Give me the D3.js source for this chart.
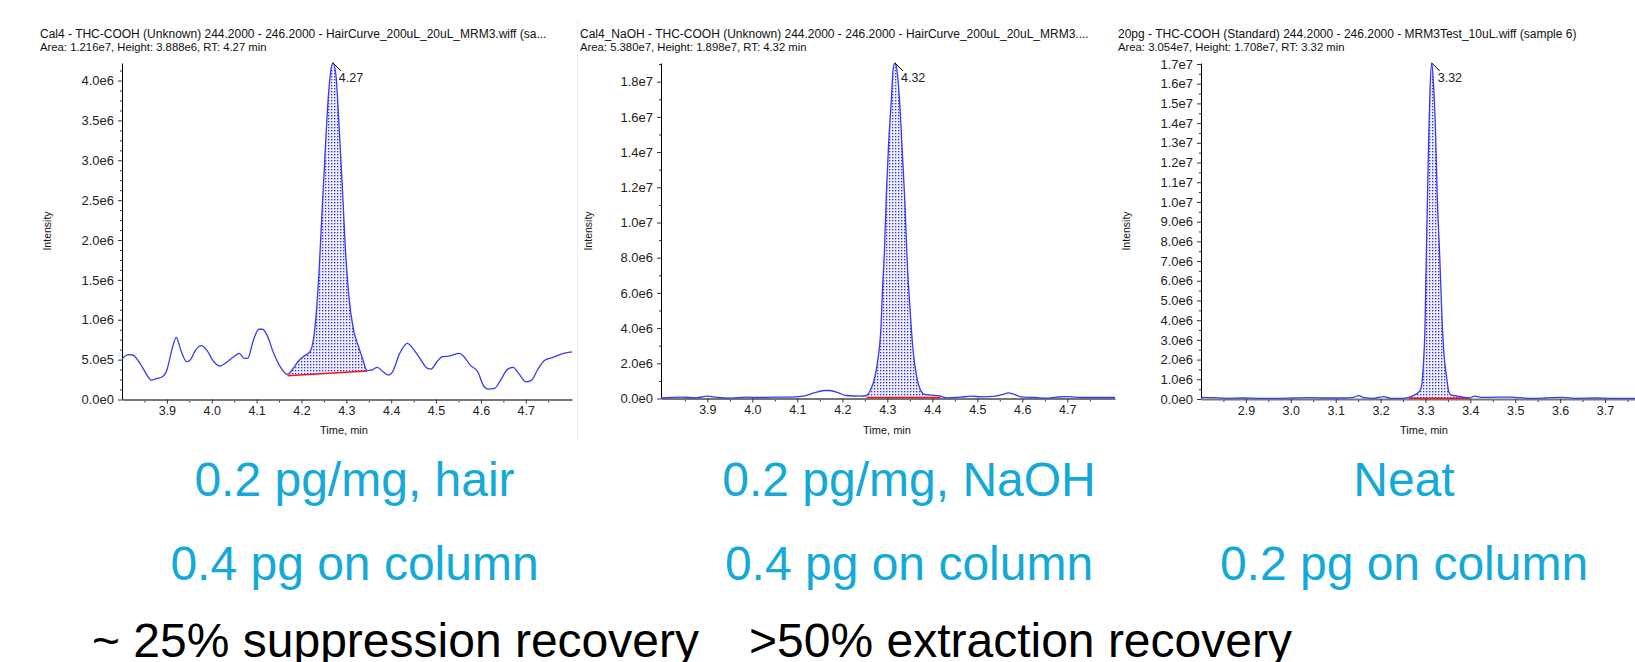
<!DOCTYPE html>
<html>
<head>
<meta charset="utf-8">
<script src="https://cdn.jsdelivr.net/npm/d3@7"></script>
<style>
  body { margin: 0; background: #fff; }
  svg { display: block; font-family: "Liberation Sans", Arial, sans-serif; }
</style>
</head>
<body>
<svg id="chart" width="1635" height="662"></svg>
<script>
// ---- data (time in min, intensity in units of 1e6) ----
const p1Trace = [[3.800,0.508],[3.814,0.562],[3.824,0.558],[3.840,0.453],[3.861,0.264],[3.865,0.243],
  [3.878,0.264],[3.890,0.285],[3.900,0.370],[3.911,0.620],[3.921,0.780],[3.931,0.620],[3.944,0.474],
  [3.952,0.495],[3.964,0.620],[3.977,0.676],[3.989,0.620],[4.002,0.495],[4.018,0.420],[4.035,0.474],
  [4.049,0.537],[4.062,0.579],[4.072,0.516],[4.080,0.516],[4.093,0.747],[4.105,0.881],[4.113,0.881],
  [4.123,0.810],[4.138,0.579],[4.155,0.390],[4.169,0.315],[4.179,0.370],[4.192,0.474],[4.204,0.537],
  [4.219,0.600],[4.227,0.768],[4.233,1.083],[4.239,1.587],[4.245,2.258],[4.252,3.014],[4.258,3.643],
  [4.264,4.060],[4.270,4.222],[4.277,4.060],[4.283,3.517],[4.291,2.678],[4.298,1.880],[4.305,1.335],
  [4.316,0.873],[4.326,0.684],[4.336,0.516],[4.346,0.361],[4.357,0.370],[4.369,0.403],[4.382,0.348],
  [4.394,0.306],[4.402,0.336],[4.419,0.579],[4.436,0.705],[4.448,0.642],[4.464,0.516],[4.481,0.390],
  [4.489,0.382],[4.502,0.474],[4.514,0.537],[4.531,0.546],[4.552,0.579],[4.564,0.525],[4.576,0.432],
  [4.593,0.348],[4.605,0.180],[4.616,0.130],[4.630,0.139],[4.644,0.243],[4.659,0.378],[4.672,0.403],
  [4.684,0.327],[4.701,0.222],[4.713,0.243],[4.726,0.370],[4.743,0.495],[4.759,0.525],[4.784,0.579],
  [4.803,0.596]];
const p1Base = [[4.169,0.298],[4.346,0.357]];

const p2Trace = [[3.797,0.04],[3.843,0.076],[3.875,0.04],[3.900,0.13],[3.922,0.06],[3.954,0.02],
  [3.986,0.076],[4.017,0.057],[4.049,0.076],[4.081,0.076],[4.113,0.13],[4.137,0.32],[4.160,0.455],
  [4.172,0.455],[4.192,0.32],[4.208,0.17],[4.240,0.13],[4.254,0.17],[4.263,0.51],[4.271,1.08],
  [4.279,2.22],[4.286,4.12],[4.289,6.01],[4.294,8.67],[4.298,11.7],[4.303,14.55],[4.309,17.0],
  [4.313,18.72],[4.317,19.06],[4.321,18.72],[4.327,17.0],[4.333,14.17],[4.339,11.13],[4.344,7.91],
  [4.351,4.87],[4.357,2.79],[4.365,1.27],[4.375,0.42],[4.383,0.23],[4.398,0.19],[4.418,0.13],
  [4.430,0.04],[4.462,0.076],[4.486,0.13],[4.510,0.095],[4.541,0.13],[4.557,0.23],[4.569,0.32],
  [4.581,0.25],[4.597,0.095],[4.629,0.057],[4.652,0.02],[4.676,0.076],[4.700,0.11],[4.732,0.057],
  [4.771,0.057],[4.806,0.057]];
const p2Base = [[4.254,0.06],[4.418,0.06]];

const p3Trace = [[2.800,0.085],[2.827,0.068],[2.857,0.034],[2.894,0.05],[2.931,0.034],[2.969,0.034],
  [3.006,0.05],[3.043,0.068],[3.081,0.05],[3.118,0.05],[3.140,0.085],[3.151,0.17],[3.163,0.068],
  [3.185,0.034],[3.207,0.12],[3.222,0.034],[3.245,0.034],[3.263,0.085],[3.275,0.20],[3.282,0.29],
  [3.290,0.54],[3.296,1.99],[3.299,3.69],[3.301,6.25],[3.304,9.65],[3.307,13.05],[3.310,15.6],
  [3.314,17.05],[3.318,15.95],[3.322,13.9],[3.326,10.5],[3.332,7.1],[3.337,4.03],[3.341,2.33],
  [3.347,1.14],[3.352,0.37],[3.358,0.20],[3.372,0.15],[3.387,0.085],[3.398,0.05],[3.409,0.15],
  [3.424,0.085],[3.446,0.085],[3.469,0.10],[3.491,0.10],[3.506,0.068],[3.536,0.034],[3.566,0.05],
  [3.603,0.085],[3.640,0.034],[3.678,0.05],[3.715,0.034],[3.769,0.034]];
const p3Base = [[3.263,0.04],[3.398,0.04]];

const p1XTicks = [3.9,4.0,4.1,4.2,4.3,4.4,4.5,4.6,4.7];
const p2XTicks = [3.9,4.0,4.1,4.2,4.3,4.4,4.5,4.6,4.7];
const p3XTicks = [2.9,3.0,3.1,3.2,3.3,3.4,3.5,3.6,3.7];
const p1YTicks = [0,0.5,1.0,1.5,2.0,2.5,3.0,3.5,4.0];
const p2YTicks = [0,2,4,6,8,10,12,14,16,18];
const p3YTicks = [0,1,2,3,4,5,6,7,8,9,10,11,12,13,14,15,16,17];

const peakLabels = ["4.27","4.32","3.32"];
const titleLine1 = [
  "Cal4 - THC-COOH (Unknown) 244.2000 - 246.2000 - HairCurve_200uL_20uL_MRM3.wiff (sa...",
  "Cal4_NaOH - THC-COOH (Unknown) 244.2000 - 246.2000 - HairCurve_200uL_20uL_MRM3....",
  "20pg - THC-COOH (Standard) 244.2000 - 246.2000 - MRM3Test_10uL.wiff (sample 6)"];
const titleLine2 = [
  "Area: 1.216e7, Height: 3.888e6, RT: 4.27 min",
  "Area: 5.380e7, Height: 1.898e7, RT: 4.32 min",
  "Area: 3.054e7, Height: 1.708e7, RT: 3.32 min"];
const captionRow1 = ["0.2 pg/mg, hair","0.2 pg/mg, NaOH","Neat"];
const captionRow2 = ["0.4 pg on column","0.4 pg on column","0.2 pg on column"];
const footer = ["~ 25% suppression recovery", ">50% extraction recovery"];

// ---- layout ----
const panels = [
  {trace: p1Trace, base: p1Base, xTicks: p1XTicks, yTicks: p1YTicks, yMinor: 0.125,
   xDom: [3.80, 4.803], yMax: 4.22, left: 122, right: 572, top: 63, bottom: 399.5,
   titleX: 40, intX: 47, timeX: 344, capX: 354.5},
  {trace: p2Trace, base: p2Base, xTicks: p2XTicks, yTicks: p2YTicks, yMinor: 1,
   xDom: [3.797, 4.806], yMax: 19.06, left: 661, right: 1115, top: 63, bottom: 398.5,
   titleX: 580, intX: 588, timeX: 887, capX: 909},
  {trace: p3Trace, base: p3Base, xTicks: p3XTicks, yTicks: p3YTicks, yMinor: 0.5,
   xDom: [2.80, 3.769], yMax: 17.05, left: 1201, right: 1636, top: 63, bottom: 399,
   titleX: 1118, intX: 1126, timeX: 1424, capX: 1404}
];

const LINE_BLUE = "#3a3af0";
const CYAN = "#14a9d6";
const svg = d3.select("#chart");

// dotted fill for integrated peaks
const pat = svg.append("defs").append("pattern")
    .attr("id", "dots").attr("width", 3).attr("height", 3)
    .attr("patternUnits", "userSpaceOnUse");
pat.append("rect").attr("width", 3).attr("height", 3).attr("fill", "#eef0fc");
pat.append("rect").attr("x", 1).attr("y", 1).attr("width", 1.3).attr("height", 1.3).attr("fill", "#2a2ae8");

// faint divider after the first trace window
svg.append("line").attr("x1", 577.5).attr("x2", 577.5).attr("y1", 20).attr("y2", 440)
    .attr("stroke", "#eeeeee");

const sciFmt = v => d3.format(".1e")(v * 1e6).replace("e+", "e");

panels.forEach((p, i) => {
  const x = d3.scaleLinear().domain(p.xDom).range([p.left, p.right]);
  const y = d3.scaleLinear().domain([0, p.yMax]).range([p.bottom, p.top]);
  const g = svg.append("g");

  // titles
  g.append("text").attr("x", p.titleX).attr("y", 37.5).attr("font-size", 12).attr("fill", "#111")
    .text(titleLine1[i]);
  g.append("text").attr("x", p.titleX).attr("y", 51).attr("font-size", 11.3).attr("fill", "#111")
    .text(titleLine2[i]);

  // peak area between baseline and trace
  const [b0, b1] = p.base;
  const baseAt = t => b0[1] + (b1[1] - b0[1]) * (t - b0[0]) / (b1[0] - b0[0]);
  const inPeak = p.trace.filter(d => d[0] >= b0[0] - 1e-9 && d[0] <= b1[0] + 1e-9);
  g.append("path").datum(inPeak)
    .attr("fill", "url(#dots)")
    .attr("d", d3.area().curve(d3.curveMonotoneX)
      .x(d => x(d[0])).y0(d => y(baseAt(d[0]))).y1(d => y(d[1])));

  // minor y ticks
  const yMinorVals = d3.range(0, p.yMax + 1e-9, p.yMinor).filter(v => !p.yTicks.some(t => Math.abs(t - v) < 1e-9));
  g.append("g").attr("transform", `translate(${p.left},0)`)
    .call(d3.axisLeft(y).tickValues(yMinorVals).tickSize(2).tickSizeOuter(0).tickFormat(""))
    .call(a => a.select(".domain").remove())
    .call(a => a.selectAll("line").attr("stroke", "#333"));

  // y axis
  g.append("g").attr("transform", `translate(${p.left},0)`)
    .call(d3.axisLeft(y).tickValues(p.yTicks).tickSize(4).tickPadding(4).tickSizeOuter(0).tickFormat(sciFmt))
    .call(a => a.select(".domain").attr("stroke", "#000"))
    .call(a => a.selectAll("line").attr("stroke", "#333"))
    .call(a => a.selectAll("text").attr("font-size", 13).attr("fill", "#222")
      .attr("font-family", "'Liberation Sans', Arial, sans-serif"));

  // minor x ticks
  const xMinorVals = p.xTicks.map(t => t - 0.05).concat([p.xTicks[p.xTicks.length - 1] + 0.05])
    .filter(v => v > p.xDom[0] && v < p.xDom[1]);
  g.append("g").attr("transform", `translate(0,${p.bottom})`)
    .call(d3.axisBottom(x).tickValues(xMinorVals).tickSize(3).tickSizeOuter(0).tickFormat(""))
    .call(a => a.select(".domain").remove())
    .call(a => a.selectAll("line").attr("stroke", "#333"));

  // x axis
  g.append("g").attr("transform", `translate(0,${p.bottom})`)
    .call(d3.axisBottom(x).tickValues(p.xTicks).tickSize(4).tickPadding(3).tickSizeOuter(0).tickFormat(d3.format(".1f")))
    .call(a => a.select(".domain").attr("stroke", "#777").attr("stroke-width", 2))
    .call(a => a.selectAll("line").attr("stroke", "#333"))
    .call(a => a.selectAll("text").attr("font-size", 12.5).attr("fill", "#222")
      .attr("font-family", "'Liberation Sans', Arial, sans-serif"));

  // integration baseline
  g.append("line")
    .attr("x1", x(b0[0])).attr("y1", y(b0[1])).attr("x2", x(b1[0])).attr("y2", y(b1[1]))
    .attr("stroke", "#ff1010").attr("stroke-width", 1.5);

  // trace
  g.append("path").datum(p.trace)
    .attr("fill", "none").attr("stroke", LINE_BLUE).attr("stroke-width", 1.3)
    .attr("d", d3.line().curve(d3.curveMonotoneX).x(d => x(d[0])).y(d => y(d[1])));

  // apex flag + RT label
  const apex = p.trace.reduce((a, b) => (b[1] > a[1] ? b : a));
  const ax = x(apex[0]), ay = y(apex[1]);
  g.append("line").attr("x1", ax).attr("y1", ay).attr("x2", ax + 8).attr("y2", ay + 8)
    .attr("stroke", "#000").attr("stroke-width", 1);
  g.append("text").attr("x", ax + 6).attr("y", ay + 19).attr("font-size", 12.5).attr("fill", "#222")
    .text(peakLabels[i]);

  // axis titles
  g.append("text").attr("transform", `translate(${p.intX},231) rotate(-90)`)
    .attr("text-anchor", "middle").attr("dy", "0.35em").attr("font-size", 10.5).attr("fill", "#111")
    .text("Intensity");
  g.append("text").attr("x", p.timeX).attr("y", 434).attr("text-anchor", "middle")
    .attr("font-size", 11).attr("fill", "#111").text("Time, min");

  // captions
  g.append("text").attr("x", p.capX).attr("y", 496).attr("text-anchor", "middle")
    .attr("font-size", 48).attr("fill", CYAN).text(captionRow1[i]);
  g.append("text").attr("x", p.capX).attr("y", 580).attr("text-anchor", "middle")
    .attr("font-size", 48).attr("fill", CYAN).text(captionRow2[i]);
});

// footer sits on the lower edge, as in the slide
svg.append("text").attr("x", 92).attr("y", 657).attr("font-size", 48).attr("fill", "#000").text(footer[0]);
svg.append("text").attr("x", 749).attr("y", 657).attr("font-size", 48).attr("fill", "#000").text(footer[1]);
</script>
</body>
</html>
